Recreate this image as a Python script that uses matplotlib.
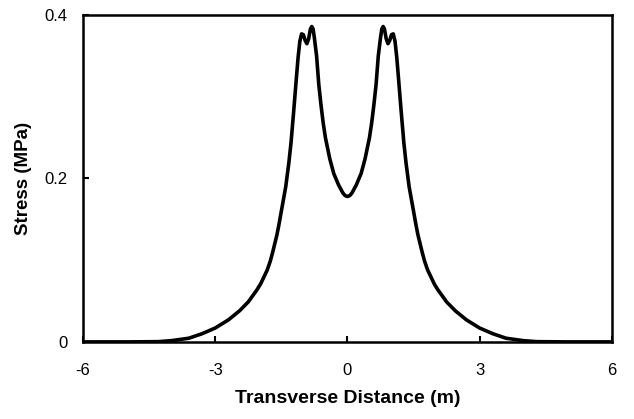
import matplotlib
matplotlib.use("Agg")
import matplotlib.pyplot as plt

plt.rcParams['font.family'] = ['Liberation Sans', 'DejaVu Sans']
plt.rcParams['axes.unicode_minus'] = False

# Stress profile (m, MPa)
distance = [-6.0, -5.0, -4.3, -4.0, -3.6, -3.3, -3.0, -2.7, -2.45, -2.25, -2.05,
            -1.97, -1.9, -1.82, -1.75, -1.7, -1.65, -1.6, -1.56, -1.48, -1.4,
            -1.33, -1.28, -1.22, -1.16, -1.12, -1.08, -1.04, -1.0, -0.96, -0.92,
            -0.88, -0.84, -0.81, -0.78, -0.75, -0.7, -0.65, -0.6, -0.55, -0.5,
            -0.4, -0.31, -0.2, -0.1, -0.05, 0.0, 0.05, 0.1, 0.2, 0.31, 0.4, 0.5,
            0.55, 0.6, 0.65, 0.7, 0.75, 0.78, 0.81, 0.84, 0.88, 0.92, 0.96, 1.0,
            1.04, 1.08, 1.12, 1.16, 1.22, 1.28, 1.33, 1.4, 1.48, 1.56, 1.6, 1.65,
            1.7, 1.75, 1.82, 1.9, 1.97, 2.05, 2.25, 2.45, 2.7, 3.0, 3.3, 3.6, 4.0,
            4.3, 5.0, 6.0]
stress = [0.0, 0.0, 0.0003, 0.0015, 0.0045, 0.010, 0.017, 0.027, 0.038, 0.049, 0.064,
          0.071, 0.079, 0.088, 0.099, 0.109, 0.120, 0.131, 0.142, 0.166, 0.190,
          0.219, 0.244, 0.282, 0.322, 0.348, 0.368, 0.377, 0.376, 0.369, 0.365,
          0.371, 0.383, 0.386, 0.383, 0.372, 0.350, 0.315, 0.290, 0.268, 0.250,
          0.224, 0.206, 0.192, 0.182, 0.179, 0.178, 0.179, 0.182, 0.192, 0.206, 0.224, 0.250,
          0.268, 0.290, 0.315, 0.350, 0.372, 0.383, 0.386, 0.383, 0.371, 0.365, 0.369, 0.376,
          0.377, 0.368, 0.348, 0.322, 0.282, 0.244, 0.219, 0.190, 0.166, 0.142, 0.131, 0.120,
          0.109, 0.099, 0.088, 0.079, 0.071, 0.064, 0.049, 0.038, 0.027, 0.017, 0.010, 0.0045, 0.0015,
          0.0003, 0.0, 0.0]

x_ticks = [-6, -3, 0, 3, 6]
y_ticks = [0, 0.2, 0.4]
y_labels = ['0', '0.2', '0.4']

fig = plt.figure(figsize=(6.34, 4.19), dpi=100)
ax = fig.add_axes([0.131, 0.184, 0.834, 0.780])

ax.plot(distance, stress, color='black', linewidth=2.6, solid_joinstyle='round')

ax.set_xlim(-6, 6)
ax.set_ylim(0, 0.4)
ax.set_xticks(x_ticks)
ax.set_yticks(y_ticks)
ax.set_yticklabels(y_labels)
ax.tick_params(direction='in', length=4, width=1.5, labelsize=12)
ax.tick_params(axis='x', pad=15)
ax.tick_params(axis='y', pad=11)

for s in ax.spines.values():
    s.set_linewidth(1.8)

ax.set_xlabel('Transverse Distance (m)', fontsize=14, fontweight='bold', va='center')
ax.set_ylabel('Stress (MPa)', fontsize=13.5, fontweight='bold', va='center')
ax.xaxis.set_label_coords(0.5, -0.174)
ax.yaxis.set_label_coords(-0.112, 0.5)

fig.savefig('out.png', dpi=100)
